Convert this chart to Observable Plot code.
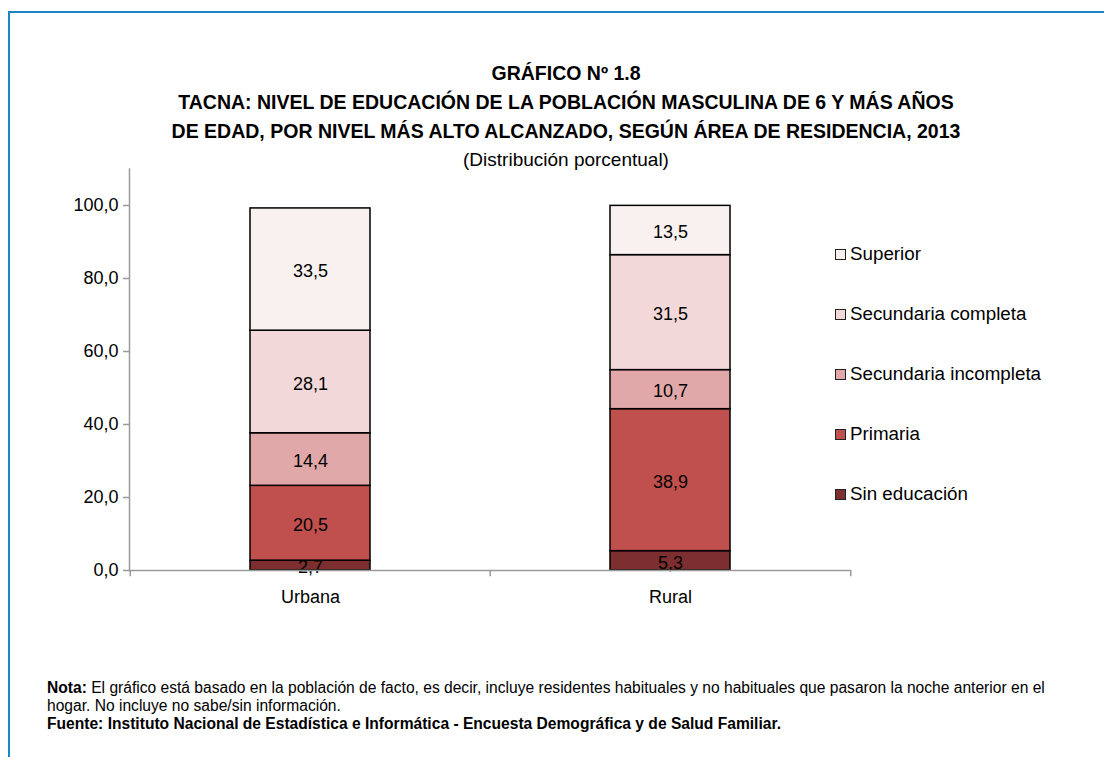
<!DOCTYPE html>
<html>
<head>
<meta charset="utf-8">
<script src="https://cdn.jsdelivr.net/npm/d3@7"></script>
<script src="https://cdn.jsdelivr.net/npm/@observablehq/plot@0.6"></script>
<style>
  html, body { margin: 0; padding: 0; background: #fff; }
  body { font-family: "Liberation Sans Narrow", "Arial Narrow", "Liberation Sans", Arial, sans-serif; color: #000; }
  #wrap { position: relative; width: 1104px; height: 757px; overflow: hidden; }
  #frame { position: absolute; left: 8px; top: 11px; right: -4px; bottom: -4px; border-left: 2px solid #1a86c2; border-top: 2px solid #1a86c2; }
  .title { position: absolute; left: 0; width: 1132px; text-align: center; font-weight: bold; font-size: 19.5px; line-height: 22px; }
  .sub { position: absolute; left: 0; width: 1132px; text-align: center; font-size: 19px; line-height: 22px; }
  #chart { position: absolute; left: 0; top: 150px; }
  .leg { position: absolute; left: 835px; font-size: 18.8px; line-height: 22px; display: flex; align-items: center; white-space: nowrap; }
  .sw { width: 9px; height: 9px; border: 1px solid #222; margin-right: 4px; }
  .note { position: absolute; left: 47px; font-size: 15.6px; line-height: 18px; white-space: nowrap; }
</style>
</head>
<body>
<div id="wrap">
  <div id="frame"></div>
  <div class="title" style="top:62px">GRÁFICO Nº 1.8</div>
  <div class="title" style="top:91px">TACNA: NIVEL DE EDUCACIÓN DE LA POBLACIÓN MASCULINA DE 6 Y MÁS AÑOS</div>
  <div class="title" style="top:120px">DE EDAD, POR NIVEL MÁS ALTO ALCANZADO, SEGÚN ÁREA DE RESIDENCIA, 2013</div>
  <div class="sub" style="top:149px">(Distribución porcentual)</div>
  <div id="chart"></div>
  <div id="legend"></div>
  <div class="note" style="top:679px"><b>Nota:</b> El gráfico está basado en la población de facto, es decir, incluye residentes habituales y no habituales que pasaron la noche anterior en el</div>
  <div class="note" style="top:697px">hogar. No incluye no sabe/sin información.</div>
  <div class="note" style="top:715px"><b>Fuente: Instituto Nacional de Estadística e Informática - Encuesta Demográfica y de Salud Familiar.</b></div>
</div>
<script>
const areas = ["Urbana", "Rural"];
const levels = ["Sin educación", "Primaria", "Secundaria incompleta", "Secundaria completa", "Superior"];
const urbana = [2.7, 20.5, 14.4, 28.1, 33.5];
const rural = [5.3, 38.9, 10.7, 31.5, 13.5];
const colors = ["#7d2e2e", "#c0504d", "#e0a8a8", "#f2d8d9", "#f9f0f0"];
const yTicks = [0, 20, 40, 60, 80, 100];

const seriesByArea = {Urbana: urbana, Rural: rural};
const data = [];
for (const a of areas) levels.forEach((l, i) => data.push({area: a, level: l, value: seriesByArea[a][i]}));

const fmt = d => d.toFixed(1).replace(".", ",");

const W = 1104, H = 460;
const mL = 129, mR = 254, mT = 18.5, mB = 40;
const step = (W - mL - mR) / areas.length;
const gray = "#9a9a9a";

const plot = Plot.plot({
  width: W, height: H,
  marginLeft: mL, marginRight: mR, marginTop: mT, marginBottom: mB,
  style: {fontFamily: '"Liberation Sans Narrow", "Arial Narrow", "Liberation Sans", Arial, sans-serif', fontSize: "18px", color: "#000", background: "transparent"},
  x: {domain: areas, paddingInner: 0.667, paddingOuter: 0.333, align: 0.5, label: null},
  y: {domain: [0, 110], label: null},
  color: {domain: levels, range: colors},
  marks: [
    Plot.barY(data, {x: "area", y: "value", fill: "level", stroke: "#000", strokeWidth: 1.5}),
    Plot.text(data, Plot.stackY({x: "area", y: "value", text: d => fmt(d.value), fill: "#000", fontSize: 18, dy: 2})),
    Plot.axisY({ticks: yTicks, tickFormat: fmt, tickSize: 6, tickPadding: 5, stroke: gray, strokeWidth: 1.5, fontSize: 18, label: null}),
    Plot.axisX({tickSize: 0, tickPadding: 20, fontSize: 18, label: null}),
    Plot.frame({anchor: "left", stroke: gray, strokeWidth: 1.5}),
    Plot.frame({anchor: "bottom", stroke: gray, strokeWidth: 1.5}),
    Plot.ruleX(areas, {x: d => d, y1: 0, y2: -1.7, dx: -step / 2, stroke: gray, strokeWidth: 1.5}),
    Plot.ruleX(areas.slice(-1), {x: d => d, y1: 0, y2: -1.7, dx: step / 2, stroke: gray, strokeWidth: 1.5})
  ]
});
plot.querySelectorAll("g[aria-label='y-axis tick label'] text, g[aria-label='x-axis tick label'] text").forEach(t => t.setAttribute("fill", "#000"));
document.getElementById("chart").appendChild(plot);

// Legend (top to bottom: Superior ... Sin educación)
const legend = document.getElementById("legend");
const legendOrder = levels.slice().reverse();
const legendColors = colors.slice().reverse();
legendOrder.forEach((l, i) => {
  const div = document.createElement("div");
  div.className = "leg";
  div.style.top = (243 + i * 60) + "px";
  div.innerHTML = `<span class="sw" style="background:${legendColors[i]}"></span><span>${l}</span>`;
  legend.appendChild(div);
});
</script>
</body>
</html>
